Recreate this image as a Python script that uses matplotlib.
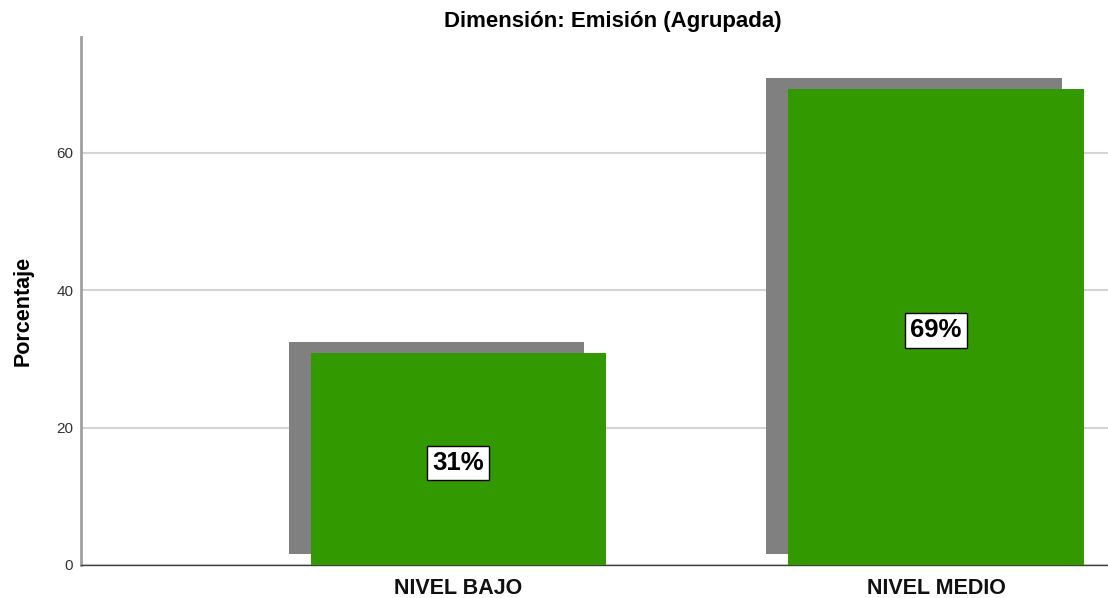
import matplotlib
matplotlib.use("Agg")
import matplotlib.pyplot as plt
import matplotlib.patheffects as pe

categories = ["NIVEL BAJO", "NIVEL MEDIO"]
percentages = [30.77, 69.23]
yticks = [0, 20, 40, 60]

plt.rcParams["font.family"] = ["Liberation Sans", "DejaVu Sans"]

DPI = 100
fig = plt.figure(figsize=(11.08, 5.98), dpi=DPI)
ax = fig.add_axes([81 / 1108, 33 / 598, 1027 / 1108, 528 / 598])

x = list(range(len(categories)))
# grey drop shadow up and to the left of each bar, as in the SPSS output
shadow = pe.withSimplePatchShadow(offset=(-22 * 72 / DPI, 11 * 72 / DPI),
                                  shadow_rgbFace="#808080", alpha=1.0)
bars = ax.bar(x, percentages, width=0.618, color="#339900", linewidth=0,
              zorder=3)
for b in bars:
    b.set_path_effects([shadow])

for xi, v in zip(x, percentages):
    ax.annotate(f"{round(v)}%", (xi, v / 2), xytext=(0, -2.5),
                textcoords="offset points", ha="center", va="center",
                fontsize=18.5, fontweight="bold", color="black", zorder=5,
                bbox=dict(boxstyle="square,pad=0.2", fc="white", ec="black",
                          lw=1.0))

ax.set_xlim(-0.79, 1.36)
ax.set_ylim(0, 76.8)
ax.set_xticks(x)
ax.set_xticklabels(categories, fontsize=15.5, fontweight="bold", color="#111111")
ax.set_yticks(yticks)
ax.tick_params(axis="y", length=0, pad=5.5, labelsize=11, labelcolor="#333333")
ax.tick_params(axis="x", length=0, pad=9)

ax.set_axisbelow(True)
ax.yaxis.grid(True, color="#d4d4d4", linewidth=1.5)
ax.spines["top"].set_visible(False)
ax.spines["right"].set_visible(False)
ax.spines["left"].set_color("#a0a0a0")
ax.spines["left"].set_linewidth(2)
ax.spines["bottom"].set_color("#404040")
ax.spines["bottom"].set_linewidth(1)

fig.text(613 / 1108, 1 - 22 / 598, "Dimensión: Emisión (Agrupada)",
         ha="center", va="center", fontsize=16, fontweight="bold")
fig.text(23 / 1108, 1 - 311 / 598, "Porcentaje", rotation=90,
         ha="center", va="center", fontsize=15.5, fontweight="bold")

fig.savefig("out.png", dpi=DPI)
